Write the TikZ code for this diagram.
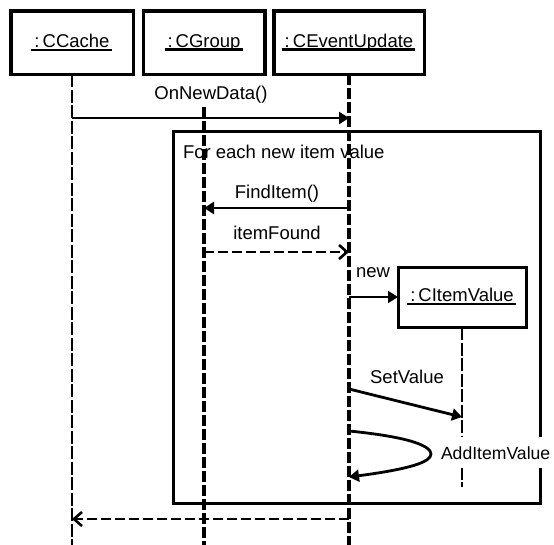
\documentclass[tikz,border=0pt]{standalone}
\usepackage{fontspec}
\setmainfont{Liberation Sans}
\usetikzlibrary{arrows.meta}
% object name with a heavy underline
\newcommand\objname[1]{\setbox0\hbox{#1}\makebox[0pt][l]{\kern-3pt\rule[-3.5pt]{\dimexpr\wd0+5pt\relax}{2.4pt}}\box0}
\begin{document}
\begin{tikzpicture}[x=1pt,y=-1pt,
  every node/.style={font=\fontsize{18.5}{20}\selectfont, inner sep=0pt, outer sep=0pt},
  objbox/.style={draw, line width=3.5pt, minimum height=63.5pt, fill=white},
  lifethin/.style={line width=1.8pt, dash pattern=on 13pt off 2.5pt},
  lifethick/.style={line width=3.5pt, dash pattern=on 11pt off 3pt},
  call/.style={line width=2.8pt, -{Triangle[length=10pt,width=12pt]}},
  reply/.style={line width=2.6pt, dash pattern=on 10pt off 4pt, -{Straight Barb[length=8pt,width=14pt,line width=2.6pt]}},
  msg/.style={anchor=base},
]
\useasboundingbox (0,0) rectangle (554,544);

% combined fragment for the loop
\node (loop) [draw, line width=3pt, anchor=north west, minimum width=367pt, minimum height=372pt] at (173,131) {};
\node (looplabel) [anchor=base west] at (183,158) {For each new item value};

% object heads
\node (cc) [objbox, minimum width=122.5pt] at (72,42.5) {\objname{:\,CCache}};
\node (cg) [objbox, minimum width=121.5pt] at (204,42.5) {\objname{:\,CGroup}};
\node (ce) [objbox, minimum width=150.5pt] at (349,42.5) {\objname{:\,CEventUpdate}};
\node (civ) [draw, line width=3pt, minimum width=128pt, minimum height=60pt, fill=white] at (462,297) {\objname{:\,CItemValue}};

% lifeline ends
\coordinate (ccend) at (72,546);
\coordinate (cgtop) at (204,107);
\coordinate (cgend) at (204,546);
\coordinate (ceend) at (349,546);
\coordinate (civend) at (462,487);

% lifelines
\draw[lifethin] (cc.south) -- (ccend);
\draw[lifethick] (cgtop) -- (cgend);
\draw[lifethick] (ce.south) -- (ceend);
\draw[lifethin] (civ.south) -- (civend);

% message anchor points on the lifelines
\coordinate (m1a) at (72,118);   \coordinate (m1b) at (349,118);
\coordinate (m2a) at (349,208);  \coordinate (m2b) at (204,208);
\coordinate (m3a) at (204,252);  \coordinate (m3b) at (349,252);
\coordinate (m4a) at (349,297);
\coordinate (m5a) at (349,389);  \coordinate (m5b) at (462,417);
\coordinate (m6a) at (349,431);  \coordinate (m6t) at (431,454);  \coordinate (m6b) at (349,477);
\coordinate (m7a) at (349,519);  \coordinate (m7b) at (72,519);

% messages
\draw[call] (m1a) -- (m1b);
\node (l1) [msg] at (211,99) {OnNewData()};

\draw[call, line width=2.4pt] (m2a) -- (m2b);
\node (l2) [msg] at (277,198) {FindItem()};

\draw[reply, line width=2.2pt] (m3a) -- (m3b);
\node (l3) [msg] at (277,239) {itemFound};

\draw[call, line width=2pt] (m4a) -- (civ.west);
\node (l4) [msg] at (373,277) {new};

\draw[call] (m5a) -- (m5b);
\node (l5) [msg] at (407,383) {SetValue};

\draw[call] (m6a) .. controls (410,437) and (431,446) .. (m6t)
                  .. controls (431,462) and (410,469) .. (m6b);
\node (l6) [anchor=base west, fill=white, inner xsep=3pt, inner ysep=9pt,
            font=\fontsize{17.6}{20}\selectfont] at (438,459) {AddItemValue};

\draw[reply] (m7a) -- (m7b);
\end{tikzpicture}
\end{document}
